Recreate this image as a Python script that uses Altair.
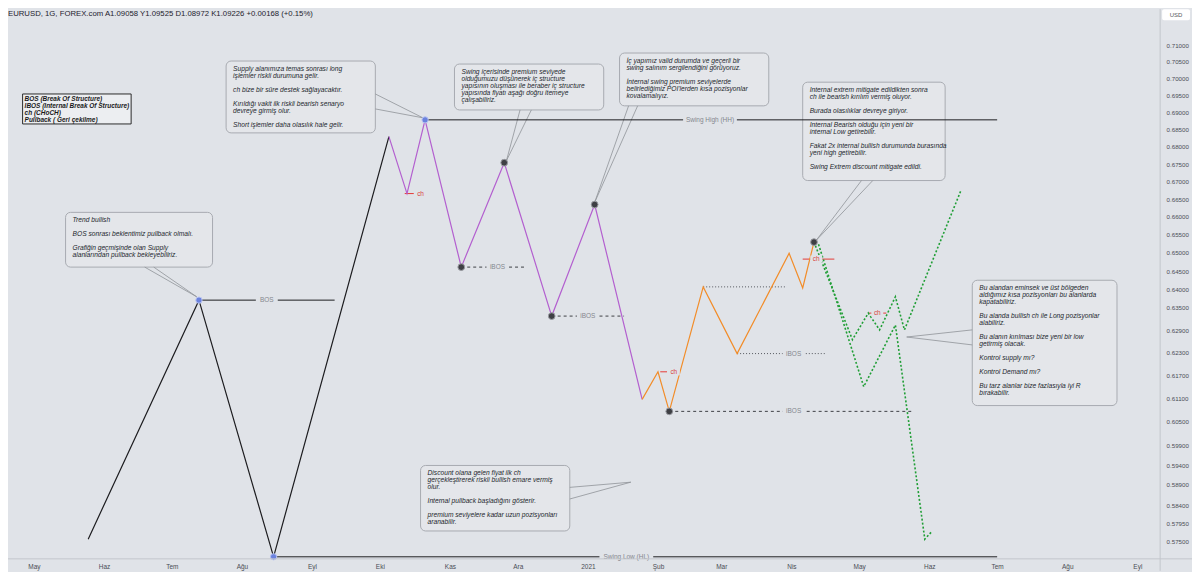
import json
import altair as alt
import pandas as pd

# ---------------- data ----------------
header_text = "EURUSD, 1G, FOREX.com  A1.09058  Y1.09525  D1.08972  K1.09226  +0.00168 (+0.15%)"
currency = "USD"

x_tick_dates = ["2020-05-01", "2020-06-01", "2020-07-01", "2020-08-01", "2020-09-01", "2020-10-01",
                "2020-11-01", "2020-12-01", "2021-01-01", "2021-02-01", "2021-03-01", "2021-04-01",
                "2021-05-01", "2021-06-01", "2021-07-01", "2021-08-01", "2021-09-01"]
month_names = ["Oca", "Şub", "Mar", "Nis", "May", "Haz", "Tem", "Ağu", "Eyl", "Eki", "Kas", "Ara"]
y_ticks = [0.71, 0.705, 0.70, 0.695, 0.69, 0.685, 0.68, 0.675, 0.67, 0.665, 0.66, 0.655, 0.65,
           0.645, 0.64, 0.635, 0.629, 0.623, 0.617, 0.611, 0.605, 0.599, 0.594, 0.589, 0.584,
           0.5795, 0.575]
x_domain = [(2020, 4, 19, 13), (2021, 9, 11, 2)]
y_domain = [0.5708, 0.7209]

black_dates = ["2020-05-25", "2020-07-13", "2020-08-15", "2020-10-05"]
black_prices = [0.5756, 0.6371, 0.5713, 0.6829]

purple_dates = ["2020-10-05", "2020-10-13", "2020-10-21", "2020-11-06", "2020-11-25",
                "2020-12-16", "2021-01-04", "2021-01-25"]
purple_prices = [0.6829, 0.6666, 0.6878, 0.6461, 0.6754, 0.6328, 0.6635, 0.6108]

orange_dates = ["2021-01-25", "2021-02-01", "2021-02-06", "2021-02-21", "2021-03-08",
                "2021-03-31", "2021-04-06", "2021-04-11"]
orange_prices = [0.6108, 0.6180, 0.6077, 0.6407, 0.6228, 0.6499, 0.6404, 0.6530]

green_a_dates = ["2021-04-11", "2021-04-28", "2021-05-05", "2021-05-10", "2021-05-17",
                 "2021-05-21", "2021-06-15"]
green_a_prices = [0.6530, 0.6265, 0.6336, 0.6291, 0.6380, 0.6291, 0.6675]

green_b_dates = ["2021-04-13", "2021-05-03", "2021-05-17", "2021-05-30", "2021-06-02"]
green_b_prices = [0.6524, 0.6141, 0.6304, 0.5756, 0.5774]

blue_dot_dates = ["2020-07-13", "2020-08-15", "2020-10-21"]
blue_dot_prices = [0.6371, 0.5713, 0.6878]
dark_dot_dates = ["2020-11-06", "2020-11-25", "2020-12-16", "2021-01-04", "2021-02-06", "2021-04-11"]
dark_dot_prices = [0.6461, 0.6754, 0.6328, 0.6635, 0.6077, 0.6530]

solid_start = ["2020-07-13", "2020-10-21", "2020-08-15"]
solid_end = ["2020-09-11", "2021-07-01", "2021-07-01"]
solid_price = [0.6371, 0.6878, 0.5713]

dashed_start = ["2020-11-06", "2020-12-16", "2021-02-06"]
dashed_end = ["2020-12-05", "2021-01-17", "2021-05-24"]
dashed_price = [0.6461, 0.6328, 0.6077]

dotted_start = ["2021-02-21", "2021-03-08"]
dotted_end = ["2021-03-30", "2021-04-16"]
dotted_price = [0.6407, 0.6228]

ch_start = ["2020-10-12", "2021-02-02", "2021-04-06", "2021-05-05"]
ch_end = ["2020-10-16", "2021-02-05", "2021-04-20", "2021-05-13"]
ch_price = [0.6666, 0.6180, 0.6483, 0.6336]
ch_label_dates = ["2020-10-19", "2021-02-08", "2021-04-12", "2021-05-09"]

wide_labels = ["Swing High (HH)", "Swing Low (HL)"]
wide_label_dates = ["2021-02-24", "2021-01-18"]
wide_label_prices = [0.6878, 0.5713]

small_labels = ["BOS", "iBOS", "iBOS", "iBOS", "iBOS"]
small_label_dates = ["2020-08-12", "2020-11-22", "2021-01-01", "2021-04-02", "2021-04-02"]
small_label_prices = [0.6371, 0.6461, 0.6328, 0.6077, 0.6228]

legend_text = "BOS (Break Of Structure)\nIBOS (Internal Break Of Structure)\nch (CHoCH)\nPullback ( Geri çekilme)"
legend_left, legend_right = "2020-04-26", "2020-06-13"
legend_top, legend_bottom = 0.6954, 0.6866

box_left = ["2020-05-15", "2020-07-25", "2020-11-03", "2021-01-15", "2021-04-06", "2020-10-19", "2021-06-20"]
box_right = ["2020-07-19", "2020-09-29", "2021-01-08", "2021-03-22", "2021-06-08", "2020-12-24", "2021-08-23"]
box_top = [0.6613, 0.7052, 0.7043, 0.7076, 0.6989, 0.5939, 0.6425]
box_bottom = [0.6461, 0.6840, 0.6907, 0.6919, 0.6703, 0.5776, 0.6092]
box_texts = [
    "Trend bullish\n\nBOS sonrası beklentimiz pullback olmalı.\n\nGrafiğin geçmişinde olan Supply\nalanlarından pullback bekleyebiliriz.",
    "Supply alanımıza temas sonrası long\nişlemler riskli durumuna gelir.\n\nch bize bir süre destek sağlayacaktır.\n\nKırıldığı vakit ilk riskli bearish senaryo\ndevreye girmiş olur.\n\nShort işlemler daha olasılık hale gelir.",
    "Swing içerisinde premium seviyede\nolduğumuzu düşünerek iç structure\nyapısının oluşması ile beraber iç structure\nyapısında fiyatı aşağı doğru itemeye\nçalışabiliriz.",
    "İç yapımız valid durumda ve geçerli bir\nswing salınım sergilendiğini görüyoruz.\n\nİnternal swing premium seviyelerde\nbelirlediğimiz POI'lerden kısa pozisyonlar\nkovalamalıyız.",
    "Internal extrem mitigate edildikten sonra\nch ile bearish kırılım vermiş oluyor.\n\nBurada olasılıklar devreye giriyor.\n\nInternal Bearish olduğu için yeni bir\ninternal Low getirebilir.\n\nFakat 2x internal bullish durumunda burasında\nyeni high getirebilir.\n\nSwing Extrem discount mitigate edildi.",
    "Discount olana gelen fiyat ilk ch\ngerçekleştirerek riskli bullish emare vermiş\nolur.\n\nInternal pullback başladığını gösterir.\n\npremium seviyelere kadar uzun pozisyonları\naranabilir.",
    "Bu alandan eminsek ve üst bölgeden\naldığımız kısa pozisyonları bu alanlarda\nkapatabiliriz.\n\nBu alanda bullish ch ile Long pozisyonlar\nalabiliriz.\n\nBu alanın kırılması bize yeni bir low\ngetirmiş olacak.\n\nKontrol supply mı?\n\nKontrol Demand mı?\n\nBu tarz alanlar bize fazlasıyla iyi R\nbırakabilir.",
]
wedge_a_dates = ["2020-06-19", "2020-09-29", "2020-12-02", "2021-01-19", "2021-05-02", "2020-12-24", "2021-06-20"]
wedge_a_prices = [0.6461, 0.6954, 0.6907, 0.6919, 0.6703, 0.5884, 0.6291]
wedge_b_dates = ["2020-06-23", "2020-09-29", "2020-12-07", "2021-01-23", "2021-05-07", "2020-12-24", "2021-06-20"]
wedge_b_prices = [0.6461, 0.6910, 0.6907, 0.6919, 0.6703, 0.5855, 0.6251]
tip_dates = ["2020-07-12", "2020-10-20", "2020-11-26", "2021-01-04", "2021-04-12", "2021-01-20", "2021-05-22"]
tip_prices = [0.6380, 0.6884, 0.6760, 0.6641, 0.6535, 0.5897, 0.6272]

# ---------------- styling ----------------
BG = "#e0e3e8"
FONT = "Liberation Sans"
W, H = 1157, 552
RIGHT_PAD = 32
BLANK = "\u2800"  # blank paragraph line that Vega does not trim away

def dt(t):
    return alt.DateTime(year=t[0], month=t[1], date=t[2], hours=t[3], utc=True)

tick_values = [alt.DateTime(year=int(s[:4]), month=int(s[5:7]), date=int(s[8:10]), utc=True)
               for s in x_tick_dates]
label_expr = ("utcmonth(datum.value) == 0 ? utcFormat(datum.value, '%Y') : "
              + json.dumps(month_names, ensure_ascii=False) + "[utcmonth(datum.value)]")

xscale = alt.Scale(type="utc", domain=[dt(x_domain[0]), dt(x_domain[1])], nice=False)
yscale = alt.Scale(type="log", domain=y_domain, nice=False, zero=False)
xaxis = alt.Axis(title=None, values=tick_values, labelExpr=label_expr, grid=False, ticks=False,
                 domain=False, labelFont=FONT, labelFontSize=6.5, labelColor="#4a4d55",
                 labelPadding=5, labelOverlap=False, labelFlush=False)
yaxis = alt.Axis(title=None, orient="right", values=y_ticks, format=".5f", grid=False, ticks=False,
                 domain=False, labelFont=FONT, labelFontSize=6.2, labelColor="#4a4d55",
                 labelPadding=6, labelOverlap=False, labelFlush=False)


def X(f):
    return alt.X(f, type="temporal", scale=xscale, axis=xaxis)


def Y(f):
    return alt.Y(f, type="quantitative", scale=yscale, axis=yaxis)


def path_df(dates, prices):
    return pd.DataFrame({"date": dates, "price": prices, "i": list(range(len(dates)))})


def keep_blank_lines(s):
    return "\n".join(line if line else BLANK for line in s.split("\n"))


layers = []

# annotation boxes
boxes = pd.DataFrame({"left": box_left, "right": box_right, "top": box_top, "bottom": box_bottom,
                      "txt": [keep_blank_lines(t) for t in box_texts]})
layers.append(alt.Chart(boxes).mark_rect(cornerRadius=5, fill="#e4e6ea", stroke="#a7aab0",
                                         strokeWidth=1).encode(
    x=X("left"), x2="right", y=Y("top"), y2="bottom"))

# wedges (pointers)
wedges = pd.DataFrame({"ad": wedge_a_dates, "ap": wedge_a_prices, "bd": wedge_b_dates,
                       "bp": wedge_b_prices, "td": tip_dates, "tp": tip_prices})
for d, p in (("ad", "ap"), ("bd", "bp")):
    layers.append(alt.Chart(wedges).mark_rule(color="#8f9298", strokeWidth=0.8).encode(
        x=X(d), y=Y(p), x2="td", y2="tp"))

# legend box
leg = pd.DataFrame({"left": [legend_left], "right": [legend_right], "top": [legend_top],
                    "bottom": [legend_bottom], "txt": [legend_text]})
layers.append(alt.Chart(leg).mark_rect(fill="#eceef1", stroke="#2a2a2a", strokeWidth=1).encode(
    x=X("left"), x2="right", y=Y("top"), y2="bottom"))

# level lines
solid = pd.DataFrame({"s": solid_start, "e": solid_end, "p": solid_price})
layers.append(alt.Chart(solid).mark_rule(color="#1c1c1f", strokeWidth=1).encode(
    x=X("s"), x2="e", y=Y("p")))
dashed = pd.DataFrame({"s": dashed_start, "e": dashed_end, "p": dashed_price})
layers.append(alt.Chart(dashed).mark_rule(color="#3d3f45", strokeWidth=1, strokeDash=[3, 3]).encode(
    x=X("s"), x2="e", y=Y("p")))
dotted = pd.DataFrame({"s": dotted_start, "e": dotted_end, "p": dotted_price})
layers.append(alt.Chart(dotted).mark_rule(color="#55585e", strokeWidth=1, strokeDash=[1, 2]).encode(
    x=X("s"), x2="e", y=Y("p")))
chl = pd.DataFrame({"s": ch_start, "e": ch_end, "p": ch_price, "d": ch_label_dates})
layers.append(alt.Chart(chl).mark_rule(color="#e53935", strokeWidth=1).encode(
    x=X("s"), x2="e", y=Y("p")))

# price path
for dates, prices, col in ((black_dates, black_prices, "#1c1c1f"),
                           (purple_dates, purple_prices, "#b35fcf"),
                           (orange_dates, orange_prices, "#f28c28")):
    layers.append(alt.Chart(path_df(dates, prices)).mark_line(color=col, strokeWidth=1.2).encode(
        x=X("date"), y=Y("price"), order="i:Q"))
for dates, prices in ((green_a_dates, green_a_prices), (green_b_dates, green_b_prices)):
    layers.append(alt.Chart(path_df(dates, prices)).mark_line(
        color="#1f9e35", strokeWidth=1.6, strokeDash=[2, 2]).encode(
        x=X("date"), y=Y("price"), order="i:Q"))

# dots
layers.append(alt.Chart(path_df(blue_dot_dates, blue_dot_prices)).mark_circle(
    size=40, color="#6b82de", opacity=1, stroke="#b9c4f0", strokeWidth=1).encode(x=X("date"), y=Y("price")))
layers.append(alt.Chart(path_df(dark_dot_dates, dark_dot_prices)).mark_circle(
    size=46, color="#3e3f44", opacity=1, stroke="#9a9ca2", strokeWidth=1).encode(x=X("date"), y=Y("price")))

# labels on lines (with a background gap)
wide = pd.DataFrame({"t": wide_labels, "d": wide_label_dates, "p": wide_label_prices})
small = pd.DataFrame({"t": small_labels, "d": small_label_dates, "p": small_label_prices})
layers.append(alt.Chart(wide).mark_point(shape="M-1,-0.14H1V0.14H-1Z", size=2916, filled=True,
                                         fill=BG, opacity=1, strokeWidth=0).encode(x=X("d"), y=Y("p")))
layers.append(alt.Chart(small).mark_point(shape="M-1,-0.35H1V0.35H-1Z", size=484, filled=True,
                                          fill=BG, opacity=1, strokeWidth=0).encode(x=X("d"), y=Y("p")))
layers.append(alt.Chart(chl).mark_point(shape="M-1,-0.6H1V0.6H-1Z", size=144, filled=True,
                                        fill=BG, opacity=1, strokeWidth=0).encode(x=X("d"), y=Y("p")))
for df in (wide, small):
    layers.append(alt.Chart(df).mark_text(font=FONT, fontSize=6.5, color="#84878e", align="center",
                                          baseline="middle").encode(x=X("d"), y=Y("p"), text="t:N"))
layers.append(alt.Chart(chl.assign(t="ch")).mark_text(font=FONT, fontSize=6.5, color="#d8453f",
                                                      align="center", baseline="middle").encode(
    x=X("d"), y=Y("p"), text="t:N"))

# annotation texts
layers.append(alt.Chart(boxes).mark_text(font=FONT, fontSize=6.7, fontStyle="italic", color="#23262d",
                                         align="left", baseline="top", lineBreak="\n", lineHeight=7,
                                         dx=7, dy=5).encode(x=X("left"), y=Y("top"), text="txt:N"))
layers.append(alt.Chart(leg).mark_text(font=FONT, fontSize=6.5, fontStyle="italic", fontWeight="bold",
                                       color="#1a1a1a", align="left", baseline="top", lineBreak="\n",
                                       lineHeight=7, dx=2, dy=2).encode(x=X("left"), y=Y("top"), text="txt:N"))

# frame lines, header, currency badge
one = pd.DataFrame({"t": [header_text], "c": [currency]})
layers.append(alt.Chart(one).mark_rule(color="#c3c6cc", strokeWidth=1).encode(
    x=alt.value(W), y=alt.value(0), y2=alt.value(H + 12)))
layers.append(alt.Chart(one).mark_rule(color="#c3c6cc", strokeWidth=1).encode(
    x=alt.value(0), x2=alt.value(W + RIGHT_PAD), y=alt.value(H)))
layers.append(alt.Chart(one).mark_text(font=FONT, fontSize=7.8, color="#1e222d", align="left",
                                       baseline="middle").encode(x=alt.value(0), y=alt.value(5), text="t:N"))
layers.append(alt.Chart(one).mark_rect(fill="#ffffff", cornerRadius=2).encode(
    x=alt.value(W + 2), x2=alt.value(W + 30), y=alt.value(0), y2=alt.value(11)))
layers.append(alt.Chart(one).mark_text(font=FONT, fontSize=6, color="#555860", align="center",
                                       baseline="middle").encode(x=alt.value(W + 16), y=alt.value(5.5), text="c:N"))

chart = alt.layer(*layers).properties(
    width=W, height=H, autosize="none",
    padding={"left": 0, "top": 0, "right": RIGHT_PAD, "bottom": 12},
    background=BG,
).configure_view(strokeWidth=0)

chart.save("out.html", embed_options={"renderer": "svg", "actions": False})
